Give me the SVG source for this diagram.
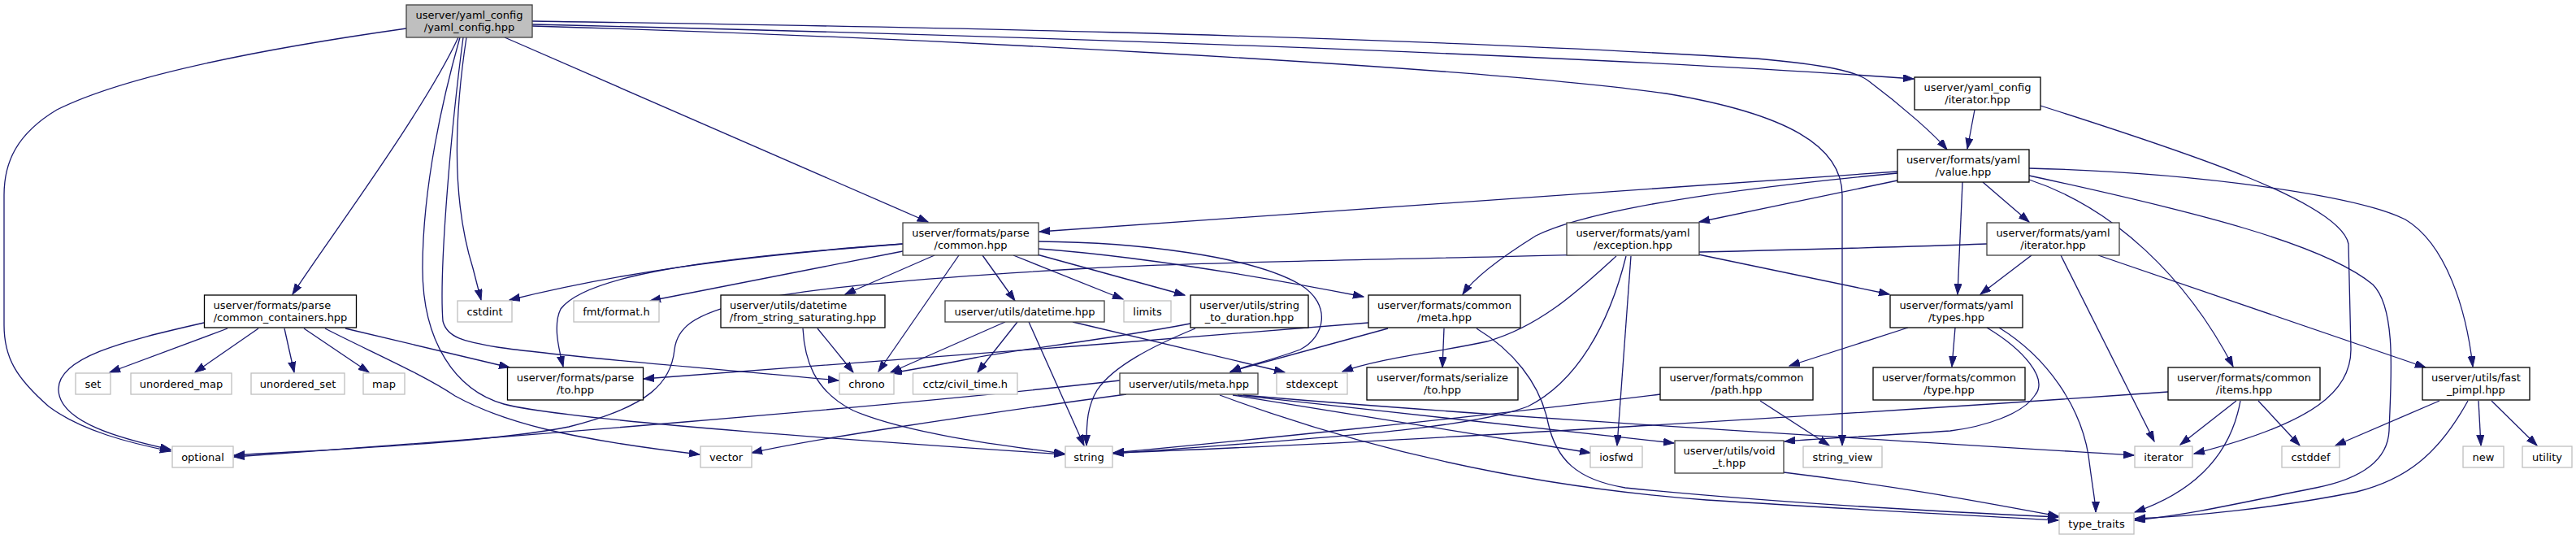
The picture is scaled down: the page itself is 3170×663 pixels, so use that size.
<svg xmlns="http://www.w3.org/2000/svg" width="3170" height="663" viewBox="0 0 3170 663">
<style>
.n rect{fill:#fff;stroke:#000;stroke-width:1.3}
.n.d rect{stroke:#404040}
.n.x rect{stroke:#bfbfbf}
.n.m rect{fill:#bfbfbf;stroke:#404040}
text{font-family:"DejaVu Sans","Liberation Sans",sans-serif;font-size:13px;text-anchor:middle;fill:#000}
text.l{text-anchor:start}
#edges path{fill:none;stroke:#191970;stroke-width:1.3;marker-end:url(#a)}
</style>
<defs>
<marker id="a" markerWidth="14" markerHeight="10" refX="13" refY="4.5" orient="auto" markerUnits="userSpaceOnUse">
<path d="M0,0 L13,4.5 L0,9 z" fill="#191970" stroke="#191970" stroke-width="1"/>
</marker>
</defs>
<rect width="3170" height="663" fill="#fff"/>
<g id="edges">
<path d="M500,35 C380,52 170,85 70,135 C20,165 5,200 5,240 L5,400 C5,440 20,465 60,500 C100,530 160,545 210,555"/>
<path d="M564,46 C520,140 400,300 360,362"/>
<path d="M566,46 C545,120 520,230 520,330 C520,420 560,480 620,497 C700,518 1100,545 1310,559"/>
<path d="M570,46 C556,150 540,330 545,395 C550,415 570,420 612,427 C700,440 900,455 1032,468"/>
<path d="M574,46 C555,170 560,260 582,330 L592,369"/>
<path d="M621,46 L1142,273"/>
<path d="M655,30 C1100,40 1900,64 2355,97"/>
<path d="M655,26 C900,30 1600,38 2161,72 C2250,80 2285,88 2300,100 C2340,130 2380,165 2396,184"/>
<path d="M655,32 C1100,45 1800,80 2050,115 C2200,140 2267,180 2267,240 L2267,548"/>
<path d="M251,397 C150,420 70,440 72,480 C74,520 150,540 210,553"/>
<path d="M280,404 L135,458"/>
<path d="M318,404 L240,458"/>
<path d="M350,404 L362,458"/>
<path d="M374,404 L454,458"/>
<path d="M400,404 C450,430 520,460 560,487 C620,520 700,540 861,559"/>
<path d="M425,404 L627,452"/>
<path d="M1111,300 C900,316 760,336 627,369"/>
<path d="M1111,300 C860,318 720,340 690,380 C680,400 688,430 693,451"/>
<path d="M1111,309 L800,370"/>
<path d="M1150,314 L1040,362"/>
<path d="M1180,314 L1081,457"/>
<path d="M1209,314 L1249,370"/>
<path d="M1247,314 L1382,368"/>
<path d="M1276,313 L1458,363"/>
<path d="M1278,306 C1400,315 1550,340 1678,365"/>
<path d="M1278,297 C1400,298 1540,315 1600,350 C1640,375 1630,415 1600,430 C1560,445 1530,450 1514,458"/>
<path d="M2335,211 L1279,285"/>
<path d="M2335,213 C2100,235 1950,260 1890,290 C1850,315 1815,340 1800,362"/>
<path d="M2335,222 L2091,273"/>
<path d="M2415,224 L2409,362"/>
<path d="M2440,224 L2497,273"/>
<path d="M2497,221 C2600,255 2690,340 2748,451"/>
<path d="M2497,207 C2700,212 2900,240 2960,270 C3010,300 3035,380 3043,451"/>
<path d="M2497,216 C2700,260 2860,300 2920,350 C2950,380 2942,470 2940,530 C2938,570 2900,590 2850,600 C2750,620 2700,632 2627,640"/>
<path d="M2430,135 L2421,183"/>
<path d="M2511,130 C2700,190 2880,250 2890,300 L2893,430 C2893,480 2850,520 2700,558"/>
<path d="M2090,313 L2325,362"/>
<path d="M1989,315 C1950,350 1900,400 1830,420 C1760,435 1700,440 1652,457"/>
<path d="M2001,315 C1980,400 1940,470 1880,500 C1800,530 1600,540 1370,558"/>
<path d="M2007,315 L1990,548"/>
<path d="M2445,300 C2100,313 1500,320 1340,330 C900,355 836,380 830,430 C826,470 800,500 700,525 C600,545 400,553 288,560"/>
<path d="M2500,314 L2437,362"/>
<path d="M2536,314 L2651,543"/>
<path d="M2582,314 L2985,452"/>
<path d="M1684,397 C1400,421 1000,450 792,466"/>
<path d="M1708,404 L1514,457"/>
<path d="M1777,404 L1775,452"/>
<path d="M1817,404 C1860,430 1895,470 1905,520 C1915,565 1940,590 2000,600 C2200,620 2400,630 2533,636"/>
<path d="M1465,398 C1350,420 1250,430 1200,440 C1150,450 1120,455 1097,459"/>
<path d="M1471,404 C1420,425 1370,450 1350,480 C1338,500 1337,520 1337,548"/>
<path d="M1237,396 L1096,458"/>
<path d="M1252,396 L1203,458"/>
<path d="M1266,396 L1334,548"/>
<path d="M1320,396 L1581,458"/>
<path d="M1006,404 L1050,458"/>
<path d="M988,404 C990,440 1000,480 1050,505 C1120,535 1250,550 1310,558"/>
<path d="M1378,468 C1100,500 600,540 288,562"/>
<path d="M1386,485 C1200,510 1000,540 925,557"/>
<path d="M1501,486 C1700,560 1900,600 2100,615 C2300,628 2450,635 2533,640"/>
<path d="M1517,486 L1957,557"/>
<path d="M1523,486 L2060,545"/>
<path d="M1530,486 C1800,510 2300,540 2626,560"/>
<path d="M2348,403 L2202,450"/>
<path d="M2406,403 L2402,451"/>
<path d="M2445,403 C2490,430 2520,465 2505,485 C2490,510 2440,525 2400,530 C2300,537 2230,540 2196,543"/>
<path d="M2460,403 C2520,440 2560,500 2570,560 C2575,600 2579,620 2579,630"/>
<path d="M2043,485 C1800,515 1500,545 1370,557"/>
<path d="M2166,493 L2251,548"/>
<path d="M2195,581 C2350,600 2450,620 2533,635"/>
<path d="M2668,482 C2300,508 1700,545 1370,557"/>
<path d="M2752,493 L2683,547"/>
<path d="M2757,493 C2745,560 2700,605 2627,630"/>
<path d="M2779,493 L2830,548"/>
<path d="M3002,493 L2874,548"/>
<path d="M3037,493 C3000,560 2960,590 2900,605 C2800,625 2700,635 2627,638"/>
<path d="M3050,493 L3053,548"/>
<path d="M3066,493 L3122,548"/>
</g>
<g id="n_main" class="n m"><rect x="500" y="6" width="155" height="40"/><text x="577.5" y="22.5">userver/yaml_config</text><text x="577.5" y="37.5">/yaml_config.hpp</text></g>
<g id="n_yci" class="n"><rect x="2356" y="95" width="155" height="40"/><text x="2433.5" y="111.5">userver/yaml_config</text><text x="2433.5" y="126.5">/iterator.hpp</text></g>
<g id="n_value" class="n"><rect x="2335" y="184" width="162" height="40"/><text x="2416" y="200.5">userver/formats/yaml</text><text x="2416" y="215.5">/value.hpp</text></g>
<g id="n_common" class="n d"><rect x="1111" y="274" width="167" height="40"/><text x="1194.5" y="290.5">userver/formats/parse</text><text x="1194.5" y="305.5">/common.hpp</text></g>
<g id="n_exception" class="n d"><rect x="1928" y="274" width="163" height="40"/><text x="2009.5" y="290.5">userver/formats/yaml</text><text x="2009.5" y="305.5">/exception.hpp</text></g>
<g id="n_yit" class="n d"><rect x="2445" y="274" width="163" height="40"/><text x="2526.5" y="290.5">userver/formats/yaml</text><text x="2526.5" y="305.5">/iterator.hpp</text></g>
<g id="n_cc" class="n"><rect x="251.5" y="363" width="187" height="40"/><text class="l" x="262.5" y="379.5">userver/formats/parse</text><text x="345" y="394.5">/common_containers.hpp</text></g>
<g id="n_fss" class="n"><rect x="887" y="363" width="202" height="40"/><text class="l" x="898" y="379.5">userver/utils/datetime</text><text x="988" y="394.5">/from_string_saturating.hpp</text></g>
<g id="n_std" class="n"><rect x="1465" y="363" width="145" height="40"/><text x="1537.5" y="379.5">userver/utils/string</text><text x="1537.5" y="394.5">_to_duration.hpp</text></g>
<g id="n_cmeta" class="n"><rect x="1684" y="363" width="187" height="40"/><text x="1777.5" y="379.5">userver/formats/common</text><text x="1777.5" y="394.5">/meta.hpp</text></g>
<g id="n_types" class="n"><rect x="2326" y="363" width="163" height="40"/><text x="2407.5" y="379.5">userver/formats/yaml</text><text x="2407.5" y="394.5">/types.hpp</text></g>
<g id="n_datetime" class="n d"><rect x="1163" y="370" width="196" height="26"/><text x="1261" y="387.5">userver/utils/datetime.hpp</text></g>
<g id="n_cstdint" class="n x"><rect x="563" y="370" width="67" height="26"/><text x="596.5" y="387.5">cstdint</text></g>
<g id="n_fmt" class="n x"><rect x="706" y="370" width="105" height="26"/><text x="758.5" y="387.5">fmt/format.h</text></g>
<g id="n_limits" class="n x"><rect x="1383" y="370" width="58" height="26"/><text x="1412" y="387.5">limits</text></g>
<g id="n_pto" class="n"><rect x="624.5" y="452" width="167" height="40"/><text x="708" y="468.5">userver/formats/parse</text><text x="708" y="483.5">/to.hpp</text></g>
<g id="n_sto" class="n"><rect x="1682" y="452" width="186" height="40"/><text x="1775" y="468.5">userver/formats/serialize</text><text x="1775" y="483.5">/to.hpp</text></g>
<g id="n_path" class="n"><rect x="2043" y="452" width="188" height="40"/><text x="2137" y="468.5">userver/formats/common</text><text x="2137" y="483.5">/path.hpp</text></g>
<g id="n_type" class="n"><rect x="2305" y="452" width="187" height="40"/><text x="2398.5" y="468.5">userver/formats/common</text><text x="2398.5" y="483.5">/type.hpp</text></g>
<g id="n_items" class="n"><rect x="2668" y="452" width="187" height="40"/><text x="2761.5" y="468.5">userver/formats/common</text><text x="2761.5" y="483.5">/items.hpp</text></g>
<g id="n_fp" class="n"><rect x="2981" y="452" width="132" height="40"/><text x="3047" y="468.5">userver/utils/fast</text><text x="3047" y="483.5">_pimpl.hpp</text></g>
<g id="n_set" class="n x"><rect x="93" y="459" width="43" height="26"/><text x="114.5" y="476.5">set</text></g>
<g id="n_umap" class="n x"><rect x="161" y="459" width="124" height="26"/><text x="223" y="476.5">unordered_map</text></g>
<g id="n_uset" class="n x"><rect x="309" y="459" width="115" height="26"/><text x="366.5" y="476.5">unordered_set</text></g>
<g id="n_map" class="n x"><rect x="447" y="459" width="51" height="26"/><text x="472.5" y="476.5">map</text></g>
<g id="n_chrono" class="n x"><rect x="1033" y="459" width="67" height="26"/><text x="1066.5" y="476.5">chrono</text></g>
<g id="n_cctz" class="n x"><rect x="1123.5" y="459" width="128.5" height="26"/><text x="1187.75" y="476.5">cctz/civil_time.h</text></g>
<g id="n_umeta" class="n d"><rect x="1378" y="459" width="170" height="26"/><text x="1463" y="476.5">userver/utils/meta.hpp</text></g>
<g id="n_stdexcept" class="n x"><rect x="1571" y="459" width="87" height="26"/><text x="1614.5" y="476.5">stdexcept</text></g>
<g id="n_optional" class="n x"><rect x="212" y="549" width="75" height="26"/><text x="249.5" y="566.5">optional</text></g>
<g id="n_vector" class="n x"><rect x="862" y="549" width="63" height="26"/><text x="893.5" y="566.5">vector</text></g>
<g id="n_string" class="n x"><rect x="1311" y="549" width="58" height="26"/><text x="1340" y="566.5">string</text></g>
<g id="n_iosfwd" class="n x"><rect x="1957" y="549" width="64" height="26"/><text x="1989" y="566.5">iosfwd</text></g>
<g id="n_void" class="n d"><rect x="2061" y="542" width="134" height="40"/><text x="2128" y="558.5">userver/utils/void</text><text x="2128" y="573.5">_t.hpp</text></g>
<g id="n_sv" class="n x"><rect x="2219" y="549" width="97" height="26"/><text x="2267.5" y="566.5">string_view</text></g>
<g id="n_iterator" class="n x"><rect x="2627" y="549" width="71" height="26"/><text x="2662.5" y="566.5">iterator</text></g>
<g id="n_cstddef" class="n x"><rect x="2808" y="549" width="71" height="26"/><text x="2843.5" y="566.5">cstddef</text></g>
<g id="n_new" class="n x"><rect x="3031" y="549" width="50" height="26"/><text x="3056" y="566.5">new</text></g>
<g id="n_utility" class="n x"><rect x="3104" y="549" width="61" height="26"/><text x="3134.5" y="566.5">utility</text></g>
<g id="n_tt" class="n x"><rect x="2534" y="631" width="92" height="26"/><text x="2580" y="648.5">type_traits</text></g>
</svg>
